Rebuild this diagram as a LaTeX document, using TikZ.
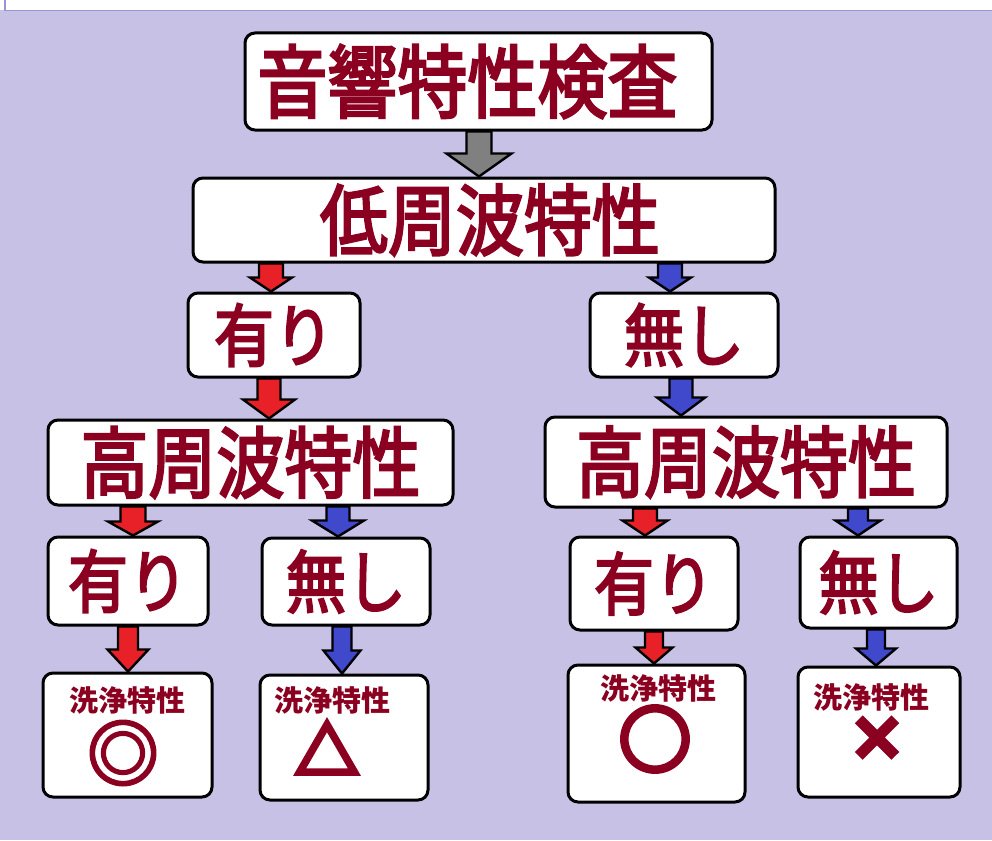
\documentclass[tikz,border=0pt]{standalone}
\usepackage{fontspec}
\usepackage{graphicx}
\newfontfamily\jp{Noto Sans CJK JP}
\newfontfamily\jpmd{Noto Sans CJK JP}[FakeBold=3.2]
\newfontfamily\jpmk{Noto Sans CJK JP}[FakeBold=7]
\newfontfamily\jpmkr{Noto Sans CJK JP}[FakeBold=3]
\usetikzlibrary{calc}
\definecolor{bgc}{RGB}{198,193,229}
\definecolor{framec}{RGB}{150,150,212}
\definecolor{txt}{RGB}{139,0,32}
\definecolor{redc}{RGB}{232,32,40}
\definecolor{bluec}{RGB}{64,72,204}
\definecolor{grayc}{RGB}{128,128,128}
\newcommand\tall[1]{\scalebox{1}[1.14]{#1}}
\tikzset{
  box/.style={draw=black, line width=3pt, fill=white, rounded corners=10pt,
    inner sep=0pt, text=txt, font=\jpmd},
  arrowline/.style={draw=black, line width=2.4pt, line join=miter},
  big/.style={font=\jpmd\fontsize{68pt}{68pt}\selectfont},
  mid/.style={font=\jpmd\fontsize{60pt}{60pt}\selectfont},
  small/.style={font=\jp\bfseries\fontsize{29pt}{29pt}\selectfont, text=txt, inner sep=0pt},
  evalmark/.style={font=\jpmk\bfseries\fontsize{72pt}{72pt}\selectfont, text=txt, inner sep=0pt},
}
% #1 from, #2 to, #3 x, #4 shaft half, #5 head half, #6 head length, #7 colour
\newcommand\barrow[7]{%
  \draw[arrowline, fill=#7] let \p1=(#1.south), \p2=(#2.north) in
    ({(#3-#4)*1pt},\y1) -- ({(#3+#4)*1pt},\y1) -- ({(#3+#4)*1pt},{\y2+#6pt})
    -- ({(#3+#5)*1pt},{\y2+#6pt}) -- ({#3*1pt},\y2) -- ({(#3-#5)*1pt},{\y2+#6pt})
    -- ({(#3-#4)*1pt},{\y2+#6pt}) -- cycle;}
\begin{document}
\begin{tikzpicture}[x=1pt,y=-1pt]
\useasboundingbox (0,0) rectangle (992,840);
\fill[bgc] (0,0) rectangle (992,840);
\fill[white] (0,0) rectangle (992,10);
\draw[framec, line width=1.5pt] (5,0) -- (5,10.5) -- (992,10.5);

% boxes
\node[box, minimum width=467pt, minimum height=97pt,
  font=\jpmd\fontsize{70pt}{70pt}\selectfont] (top) at (478.5,81.5) {\tall{音響特性検査}\kern22pt};
\node[box, big, minimum width=582pt, minimum height=84pt] (low) at (484,220) {\tall{低周波特性}\kern-12pt};
\node[box, mid, minimum width=172pt, minimum height=84pt] (ari1) at (274,335) {\tall{有り}};
\node[box, mid, minimum width=188pt, minimum height=84pt] (nas1) at (684,335) {\tall{無し}};
\node[box, big, minimum width=405pt, minimum height=85pt] (hiL) at (250.5,462.5) {\tall{高周波特性}};
\node[box, big, minimum width=402pt, minimum height=90pt] (hiR) at (746,462) {\tall{高周波特性}};
\node[box, mid, minimum width=160pt, minimum height=88pt] (ariL) at (128,581) {\tall{有り}};
\node[box, mid, minimum width=168pt, minimum height=87pt] (nasL) at (346,581.5) {\tall{無し}};
\node[box, mid, minimum width=168pt, minimum height=93pt] (ariR) at (654,583.5) {\tall{有り}};
\node[box, mid, minimum width=157pt, minimum height=91pt] (nasR) at (878.5,582.5) {\tall{無し}};
\node[box, minimum width=169pt, minimum height=124pt] (resA) at (127.5,735) {};
\node[box, minimum width=168pt, minimum height=125pt] (resB) at (344,737.5) {};
\node[box, minimum width=177pt, minimum height=137pt] (resC) at (656.5,733.5) {};
\node[box, minimum width=162pt, minimum height=130pt] (resD) at (879,732) {};

% result texts
\node[small] (tA) at (127,700) {洗浄特性};
\node[evalmark, font=\jpmkr\bfseries\fontsize{72pt}{72pt}\selectfont] (mA) at (123,753) {◎};
\node[small] (tB) at (332,700) {洗浄特性};
\node[evalmark, font=\jpmk\bfseries\fontsize{64pt}{64pt}\selectfont] (mB) at (327,748) {△};
\node[small] (tC) at (658,688) {洗浄特性};
\node[evalmark] (mC) at (655,739) {○};
\node[small] (tD) at (871,697) {洗浄特性};
\node[evalmark, font=\jpmk\bfseries\fontsize{58pt}{58pt}\selectfont] (mD) at (877,739) {×};

% arrows
\barrow{top}{low}{479}{12.5}{32.5}{23}{grayc}
\barrow{low}{ari1}{271}{12}{21}{14}{redc}
\barrow{low}{nas1}{670}{12}{21}{14}{bluec}
\barrow{ari1}{hiL}{269}{11.5}{26}{19}{redc}
\barrow{nas1}{hiR}{681}{11.5}{24}{18}{bluec}
\barrow{hiL}{ariL}{133}{12.5}{25}{14}{redc}
\barrow{hiL}{nasL}{338}{11.5}{26}{16}{bluec}
\barrow{hiR}{ariR}{645}{12}{22.5}{15}{redc}
\barrow{hiR}{nasR}{858}{10}{22.5}{15}{bluec}
\barrow{ariL}{resA}{128}{10}{20.5}{22}{redc}
\barrow{nasL}{resB}{342}{9.5}{18.5}{23}{bluec}
\barrow{ariR}{resC}{654}{9}{18.5}{16}{redc}
\barrow{nasR}{resD}{876}{9}{20}{17}{bluec}
\end{tikzpicture}
\end{document}
